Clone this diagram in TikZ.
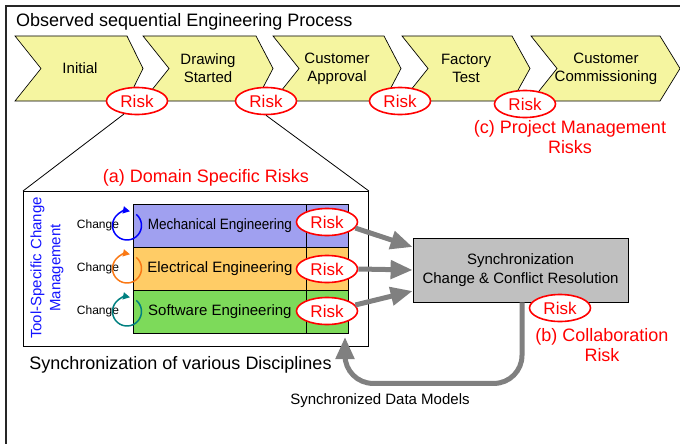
\documentclass[tikz,border=0pt]{standalone}
\usepackage{fontspec}
\setmainfont{Liberation Sans}
\usetikzlibrary{shapes.geometric,arrows.meta}

\definecolor{chevfill}{RGB}{245,245,160}
\definecolor{riskred}{RGB}{255,0,0}
\definecolor{mechfill}{RGB}{160,160,240}
\definecolor{elecfill}{RGB}{255,204,102}
\definecolor{softfill}{RGB}{125,218,90}
\definecolor{syncfill}{RGB}{192,192,192}
\definecolor{flowgray}{RGB}{128,128,128}
\definecolor{loopblue}{RGB}{0,0,255}
\definecolor{looporange}{RGB}{250,120,20}
\definecolor{loopteal}{RGB}{0,128,128}
\definecolor{toolblue}{RGB}{20,20,255}

\newcommand\setfs[2]{\fontsize{#1}{#2}\selectfont}

\begin{document}
\begin{tikzpicture}[x=1pt,y=-1pt,
  frame/.style={draw=black!85,line width=1.4pt},
  chevshape/.style={fill=chevfill,draw=black,line width=0.7pt},
  chevtext/.style={align=center,font=\setfs{15}{18},inner sep=0pt},
  risk/.style={ellipse,draw=riskred,line width=1.6pt,fill=white,
    minimum width=61pt,minimum height=27pt,inner sep=0pt,
    text=riskred,font=\setfs{17}{20}},
  redlabel/.style={text=riskred,align=center,font=\setfs{18}{20},inner sep=0pt},
  blacklabel/.style={align=center,inner sep=0pt},
  funnel/.style={draw=black,line width=0.8pt},
  rowcell/.style={draw=black,line width=0.8pt,anchor=north west,
    minimum height=43pt,inner sep=0pt,font=\setfs{15}{18}},
  changeloop/.style={line width=1.5pt,-{Triangle[length=7pt,width=7pt]}},
  changetext/.style={font=\setfs{12}{14},inner sep=0pt},
  syncbox/.style={draw=black,line width=0.8pt,fill=syncfill,
    minimum width=215pt,minimum height=64pt,align=center,
    font=\setfs{15}{19},inner sep=0pt},
  fatarrow/.style={draw=flowgray,line width=5pt,
    -{Triangle[length=22pt,width=18pt]}}
]
\useasboundingbox (0,0) rectangle (680,444);
\clip (0,0) rectangle (680,444);

% outer frame (runs past the right and lower edges)
\draw[frame] (6,6) rectangle (720,480);

\node[anchor=base west,font=\setfs{18}{21},inner sep=0pt] (title) at (16,27)
  {Observed sequential Engineering Process};

% process chevrons
\foreach \a/\b/\c in {15/127/143, 143/256/273, 273/384/401, 402/512/530, 531/660/680}
  \filldraw[chevshape] (\a,36) -- (\b,36) -- (\c,68.5) -- (\b,101) -- (\a,101)
    -- (\a+26,68.5) -- cycle;

\node[chevtext] (s1) at (80,68.5) {Initial};
\node[chevtext] (s2) at (208,68.5) {Drawing\\Started};
\node[chevtext] (s3) at (337,68.5) {Customer\\Approval};
\node[chevtext] (s4) at (466,68.5) {Factory\\Test};
\node[chevtext] (s5) at (606,68.5) {Customer\\Commissioning};

% risks along the process
\node[risk] (r1) at (137,101) {Risk};
\node[risk] (r2) at (266,101) {Risk};
\node[risk] (r3) at (400,101) {Risk};
\node[risk] (r4) at (525,104) {Risk};

\node[redlabel] (pm) at (570,137) {(c) Project Management\\Risks};

% domain box with engineering disciplines
\node[draw=black,line width=0.9pt,minimum width=345pt,minimum height=155pt,
  inner sep=0pt,anchor=north west] (dom) at (23,191) {};

\draw[funnel] (r1.225) -- (dom.north west);
\draw[funnel] (r2.south) -- (dom.north east);

\node[redlabel] (dsr) at (206,178) {(a) Domain Specific Risks};

\node[rowcell,fill=mechfill,minimum width=173pt] (mech) at (133,204)
  {\scalebox{0.9}[1]{Mechanical Engineering}};
\node[rowcell,fill=mechfill,minimum width=42pt] (mechc) at (306,204) {};
\node[rowcell,fill=elecfill,minimum width=173pt] (elec) at (133,247)
  {Electrical Engineering};
\node[rowcell,fill=elecfill,minimum width=42pt] (elecc) at (306,247) {};
\node[rowcell,fill=softfill,minimum width=173pt] (soft) at (133,290)
  {Software Engineering};
\node[rowcell,fill=softfill,minimum width=42pt] (softc) at (306,290) {};

% tool-specific change loops
\node[changetext] (ch1) at (98,225.5) {Change};
\node[changetext] (ch2) at (98,268.5) {Change};
\node[changetext] (ch3) at (98,311.5) {Change};
\draw[changeloop,loopblue] (127,225.5) ++(-50:14.5) arc[start angle=-50,end angle=282,radius=14.5];
\draw[changeloop,looporange] (127,268.5) ++(-50:14.5) arc[start angle=-50,end angle=282,radius=14.5];
\draw[changeloop,loopteal] (127,311.5) ++(-50:14.5) arc[start angle=-50,end angle=282,radius=14.5];

\node[rotate=90,align=center,text=toolblue,font=\setfs{15}{19},inner sep=0pt] (tool)
  at (47,268) {Tool-Specific Change\\Management};

\node[risk] (rm) at (327,222) {Risk};
\node[risk] (re) at (327,269) {Risk};
\node[risk] (rs) at (327,311) {Risk};

\node[blacklabel,font=\setfs{18}{21}] (svd) at (180.5,365)
  {Synchronization of various Disciplines};

% synchronization
\node[syncbox] (sync) at (520.5,270)
  {Synchronization\\Change \& Conflict Resolution};

\draw[fatarrow] (rm.-12) -- ([yshift=23pt]sync.west);
\draw[fatarrow] (re.east) -- (sync.west);
\draw[fatarrow] (rs.12) -- ([yshift=-21pt]sync.west);

\coordinate (fbend) at (345,337);
\draw[fatarrow,rounded corners=28pt] ([xshift=1.5pt]sync.south) -- ++(0,81) -| (fbend);

\node[blacklabel,font=\setfs{15}{18}] (sdm) at (380,401) {Synchronized Data Models};

\node[risk] (rc) at (560,308) {Risk};
\node[redlabel] (cr) at (602,345) {(b) Collaboration\\Risk};
\end{tikzpicture}
\end{document}
